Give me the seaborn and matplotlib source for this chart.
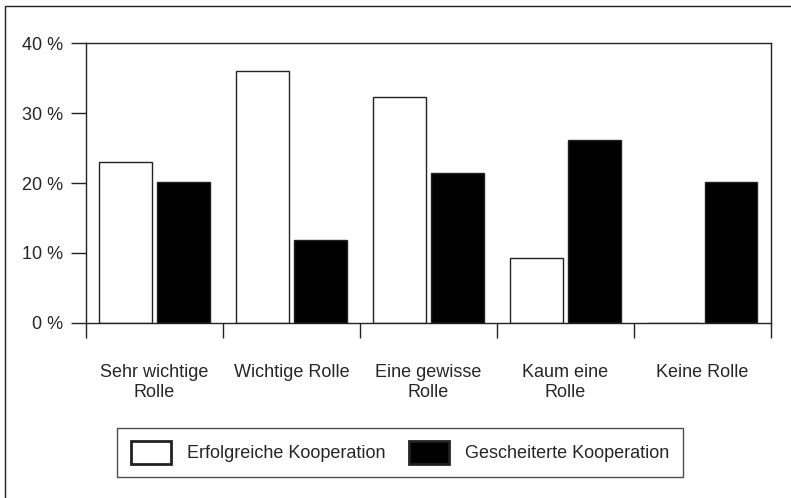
import pandas as pd
import seaborn as sns
import matplotlib.pyplot as plt
from matplotlib.patches import Rectangle

categories = ["Sehr wichtige\nRolle", "Wichtige Rolle", "Eine gewisse\nRolle",
              "Kaum eine\nRolle", "Keine Rolle"]
erfolgreich = [23.0, 36.0, 32.3, 9.3, 0.0]
gescheitert = [20.2, 11.9, 21.4, 26.2, 20.2]
series_names = ["Erfolgreiche Kooperation", "Gescheiterte Kooperation"]
y_ticks = [0, 10, 20, 30, 40]

df = pd.DataFrame({
    "Kategorie": categories * 2,
    "Anteil": erfolgreich + gescheitert,
    "Gruppe": [series_names[0]] * len(categories) + [series_names[1]] * len(categories),
})

sns.set_style("white")
plt.rcParams['font.family'] = ['Liberation Sans', 'DejaVu Sans']

fig = plt.figure(figsize=(7.91, 4.98), dpi=100)
ax = fig.add_axes([86 / 791, 1 - 322.7 / 498, (770.7 - 86) / 791, (322.7 - 43.5) / 498])

sns.barplot(data=df, x="Kategorie", y="Anteil", hue="Gruppe", order=categories,
            palette={series_names[0]: "white", series_names[1]: "black"},
            width=0.84, gap=0.08, edgecolor="#222222", linewidth=1.0, ax=ax)

ax.set_xlim(-0.5, len(categories) - 0.5)
ax.set_ylim(0, 40)
ax.set_yticks(y_ticks)
ax.set_yticklabels([f"{t} %" for t in y_ticks], fontsize=13)
ax.set_xlabel("")
ax.set_ylabel("")

# category labels without marks, group boundaries as long ticks
ax.set_xticks(range(len(categories)))
ax.set_xticklabels(categories, fontsize=13, linespacing=1.2)
ax.tick_params(axis="x", which="major", bottom=True, length=0, pad=30)
ax.set_xticks([i - 0.5 for i in range(len(categories) + 1)], minor=True)
ax.tick_params(axis="x", which="minor", bottom=True, length=11, width=1.0,
               direction="out", color="#222222")
ax.tick_params(axis="y", left=True, length=11, width=1.0, direction="out", pad=5.5,
               color="#222222")

for side in ["left", "right", "top", "bottom"]:
    ax.spines[side].set_visible(True)
    ax.spines[side].set_color("#222222")
    ax.spines[side].set_linewidth(1.0)

handles, labels = ax.get_legend_handles_labels()
ax.legend_.remove()
leg = fig.legend(handles, labels, loc="center", bbox_to_anchor=(400 / 791, 45.5 / 498),
                 ncol=2, frameon=True, fancybox=False, fontsize=13,
                 handlelength=2.2, handleheight=1.55, columnspacing=1.3,
                 handletextpad=0.9, borderpad=0.75, edgecolor="#222222")
leg.get_frame().set_linewidth(1.0)
for h in leg.legend_handles:
    h.set_linewidth(2.0)

# outer border of the original figure (left and top edges visible)
fig.add_artist(Rectangle((5 / 791, -0.1), 1.2, 1.1 - 6 / 498, transform=fig.transFigure,
                         fill=False, edgecolor="#222222", linewidth=1.0, clip_on=False))

fig.savefig("out.png", dpi=100)
